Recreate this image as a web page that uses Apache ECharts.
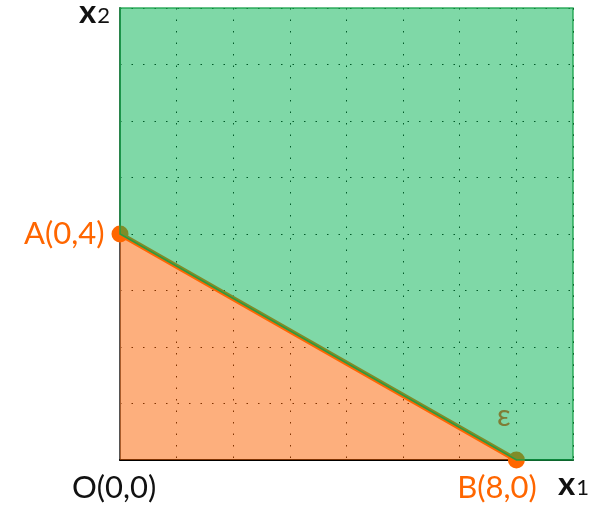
<!DOCTYPE html>
<html><head><meta charset="utf-8">
<script src="https://cdn.jsdelivr.net/npm/echarts@6/dist/echarts.min.js"></script>
<style>html,body{margin:0;padding:0;background:#fff}#c{width:589px;height:508px}</style>
</head><body><div id="c"></div>
<script>
// Data
var pointNames = ['A(0,4)', 'B(8,0)'];
var boundaryX = [0, 8];
var boundaryY = [4, 0];
var xMax = 64 / 7;      // axis extent (grid cells are 8/7 wide in x)
var xStep = 8 / 7;
var yMax = 8;
var yStep = 1;
// green region polygon
var greenX = [0, 0, 8, 64 / 7, 64 / 7];
var greenY = [8, 4, 0, 0, 8];

var chart = echarts.init(document.getElementById('c'));
var FONT = 'Lato';
var FS = 31;
var orangeLine = boundaryX.map(function (x, i) {
  return { value: [x, boundaryY[i]], name: pointNames[i] };
});
var greenPts = greenX.map(function (x, i) { return [x, greenY[i]]; });
var subRich = {
  a: { fontFamily: FONT, fontSize: 33, fontWeight: 'bold', fill: '#111', verticalAlign: 'bottom' },
  b: { fontFamily: FONT, fontSize: 22, fill: '#111', verticalAlign: 'bottom', padding: [0, 0, 2, 1] }
};

chart.setOption({
  animation: false,
  grid: { left: 120, top: 8, right: 16, bottom: 48 },
  xAxis: {
    type: 'value', min: 0, max: xMax, interval: xStep,
    axisLabel: { show: false }, axisTick: { show: false },
    axisLine: { lineStyle: { color: '#000', width: 2 } },
    splitLine: { show: true, lineStyle: { color: '#000', width: 1, type: [1.5, 10] } }
  },
  yAxis: {
    type: 'value', min: 0, max: yMax, interval: yStep,
    axisLabel: { show: false }, axisTick: { show: false },
    axisLine: { show: true, lineStyle: { color: '#555', width: 2 } },
    splitLine: { show: true, lineStyle: { color: '#000', width: 1, type: [1.5, 10] } }
  },
  series: [
    {
      type: 'line', z: 2,
      data: orangeLine,
      symbol: 'none',
      lineStyle: { color: '#ff6600', width: 5 },
      areaStyle: { color: 'rgba(251,98,0,0.51)', opacity: 1, origin: 'start' }
    },
    {
      type: 'scatter', z: 3,
      data: orangeLine,
      symbol: 'circle', symbolSize: 17,
      itemStyle: { color: '#ff6600', opacity: 1 },
      label: {
        show: true, fontFamily: FONT, fontSize: FS, color: '#ff6600',
        formatter: function (p) { return p.name; },
        position: 'left', distance: 7
      },
      labelLayout: function (p) {
        if (p.dataIndex === 1) {
          return { x: 497 - p.labelRect.width / 2, y: 472 };
        }
        return {};
      }
    },
    {
      type: 'custom', z: 5,
      data: greenPts,
      renderItem: function (params, api) {
        if (params.dataIndex !== 0) return null;
        var pts = greenPts.map(function (d) { return api.coord(d); });
        return {
          type: 'polygon',
          shape: { points: pts },
          style: { fill: 'rgba(0,178,80,0.5)', stroke: 'rgba(20,160,70,0.85)', lineWidth: 1.5 }
        };
      }
    }
  ],
  graphic: [
    { type: 'text', z: 100, left: 79, top: -4, style: { rich: subRich, text: '{a|x}{b|2}' } },
    { type: 'text', z: 100, left: 558, top: 468, style: { rich: subRich, text: '{a|x}{b|1}' } },
    { type: 'text', z: 100, left: 72, top: 472, style: { text: 'O(0,0)', fontFamily: FONT, fontSize: FS, fill: '#111' } },
    { type: 'text', z: 100, left: 497, top: 401, style: { text: 'ε', fontFamily: FONT, fontSize: 30, fill: '#7f7d35' } }
  ]
});
</script></body></html>
